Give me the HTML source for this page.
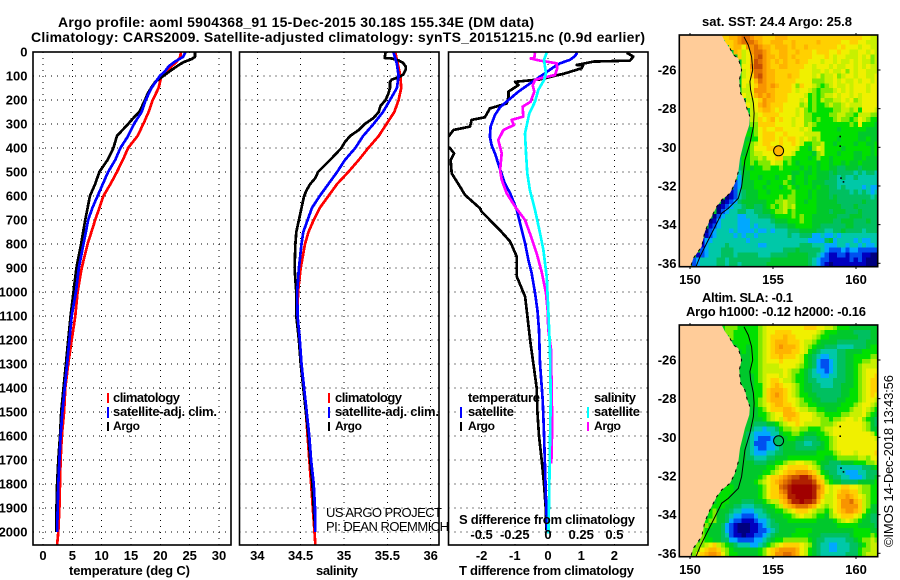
<!DOCTYPE html>
<html><head><meta charset="utf-8"><title>Argo profile</title>
<style>
html,body{margin:0;padding:0;background:#fff;}
svg{display:block;}
text{font-family:"Liberation Sans",sans-serif;fill:#000;}
.b{font-weight:bold;font-size:13px;}
.s{font-weight:bold;font-size:12px;}
.t{font-weight:bold;font-size:14px;}
.n{font-weight:normal;font-size:13px;}
</style></head><body>
<svg id="chart" xmlns="http://www.w3.org/2000/svg" width="900" height="580" viewBox="0 0 900 580">
<defs>
<clipPath id="clip-temp"><rect x="33" y="52" width="198" height="493"/></clipPath>
<clipPath id="clip-sal"><rect x="239.5" y="52" width="199.5" height="493"/></clipPath>
<clipPath id="clip-diff"><rect x="448.5" y="52" width="199.5" height="493"/></clipPath>
<clipPath id="clip-map1"><rect x="679.3" y="35" width="198.4" height="231.7"/></clipPath>
<clipPath id="clip-map2"><rect x="679.3" y="325" width="198.4" height="231.7"/></clipPath>
</defs>
<g id="layer-maps"></g>
<g id="layer-grid"></g>
<g id="layer-lines"></g>
<g id="layer-ticks"></g>

<text class="t" x="58" y="27" textLength="476" lengthAdjust="spacing">Argo profile: aoml 5904368_91 15-Dec-2015 30.18S 155.34E (DM data)</text>
<text class="t" x="31" y="42" textLength="614" lengthAdjust="spacing">Climatology: CARS2009. Satellite-adjusted climatology: synTS_20151215.nc (0.9d earlier)</text>

<text class="b" x="69" y="575" textLength="121" lengthAdjust="spacing">temperature (deg C)</text>
<text class="b" x="316" y="575" textLength="42" lengthAdjust="spacing">salinity</text>
<text class="b" x="459" y="575" textLength="175" lengthAdjust="spacing">T difference from climatology</text>
<text class="b" x="459" y="524" textLength="176" lengthAdjust="spacing">S difference from climatology</text>

<g>
<rect x="107" y="393" width="2" height="10" fill="#f00"/>
<rect x="107" y="407" width="2" height="11" fill="#00f"/>
<rect x="107" y="422" width="2" height="9" fill="#000"/>
<text class="b" x="113" y="402" textLength="67" lengthAdjust="spacing">climatology</text>
<text class="b" x="113" y="416" textLength="104" lengthAdjust="spacing">satellite-adj. clim.</text>
<text class="s" x="113" y="430" textLength="27" lengthAdjust="spacing">Argo</text>
</g>
<g>
<rect x="328" y="393" width="2" height="10" fill="#f00"/>
<rect x="328" y="407" width="2" height="11" fill="#00f"/>
<rect x="328" y="422" width="2" height="9" fill="#000"/>
<text class="b" x="335" y="402" textLength="67" lengthAdjust="spacing">climatology</text>
<text class="b" x="335" y="416" textLength="104" lengthAdjust="spacing">satellite-adj. clim.</text>
<text class="s" x="335" y="430" textLength="27" lengthAdjust="spacing">Argo</text>
</g>
<g>
<text class="b" x="468" y="402" textLength="72" lengthAdjust="spacing">temperature</text>
<rect x="460" y="407" width="2" height="11" fill="#00f"/>
<rect x="460" y="422" width="2" height="9" fill="#000"/>
<text class="b" x="468" y="416" textLength="46" lengthAdjust="spacing">satellite</text>
<text class="s" x="468" y="430" textLength="27" lengthAdjust="spacing">Argo</text>
<text class="b" x="594" y="402" textLength="42" lengthAdjust="spacing">salinity</text>
<rect x="587" y="407" width="2" height="11" fill="#0ff"/>
<rect x="587" y="422" width="2" height="9" fill="#f0f"/>
<text class="b" x="594" y="416" textLength="46" lengthAdjust="spacing">satellite</text>
<text class="s" x="594" y="430" textLength="27" lengthAdjust="spacing">Argo</text>
</g>
<text class="n" x="326" y="517" textLength="116" lengthAdjust="spacing">US ARGO PROJECT</text>
<text class="n" x="326" y="531" textLength="123" lengthAdjust="spacing">PI: DEAN ROEMMICH</text>

<text class="b" x="702" y="26" textLength="150" lengthAdjust="spacing">sat. SST: 24.4 Argo: 25.8</text>
<text class="b" x="702" y="302" textLength="91" lengthAdjust="spacing">Altim. SLA: -0.1</text>
<text class="b" x="686" y="316" textLength="180" lengthAdjust="spacing">Argo h1000: -0.12 h2000: -0.16</text>
<text class="n" transform="translate(893,547) rotate(-90)" textLength="172" lengthAdjust="spacing">©IMOS 14-Dec-2018 13:43:56</text>
</svg>

<script>
/* ---------- profile data: depth (dbar) and value pairs ---------- */
const depthTicks = [0,100,200,300,400,500,600,700,800,900,1000,1100,1200,1300,1400,1500,1600,1700,1800,1900,2000];
const tempTicks = [0,5,10,15,20,25,30];
const salTicks = [34,34.5,35,35.5,36];
const salTickLabels = ['34','34.5','35','35.5','36'];
const diffTTicks = [-2,-1,0,1,2];
const diffTTickLabels = ['-2','-1','0','1','2'];
const diffSTicks = [-0.5,-0.25,0,0.25,0.5];
const diffSTickLabels = ['-0.5','-0.25','0','0.25','0.5'];

const tempArgoDepth = [0,10,20,30,40,50,60,75,100,125,150,175,200,250,275,300,350,400,450,500,550,600,650,700,800,900,1000,1100,1200,1300,1400,1500,1600,1700,1800,1900,1950,2000];
const tempArgoValue = [25.9,25.9,25.9,25.3,24.2,23.4,22.8,21.9,20.5,19.1,18.4,17.8,17.4,16.4,15.4,14.5,12.6,12,11,9.6,8.9,8,7.6,7.2,6.5,5.7,5.2,4.7,4.3,3.9,3.5,3.1,2.9,2.6,2.4,2.3,2.3,2.3];
const tempClimDepth = [0,20,40,60,100,150,200,250,300,350,400,450,500,550,600,650,700,800,900,1000,1100,1200,1300,1400,1500,1600,1700,1800,1900,2000,2054];
const tempClimValue = [23.5,23.4,22.8,21.9,20.2,19.7,18.7,18,17.1,16.1,14.5,13.6,12.6,11.5,10.3,9.6,8.9,7.6,6.6,5.9,5.5,4.9,4.3,3.8,3.6,3.2,3,2.9,2.8,2.6,2.4];
const tempSatDepth = [0,20,40,60,80,100,150,200,250,300,350,400,450,500,550,600,650,700,800,900,1000,1100,1200,1300,1400,1500,1600,1700,1800,1900,2000];
const tempSatValue = [24.3,23.9,22.5,21.4,20.8,19.9,18.5,17.5,16.8,15.5,14.5,13.2,12.3,11.1,10.2,9.3,8.4,7.7,6.9,6.1,5.6,4.9,4.5,4.1,3.7,3.3,3,2.8,2.6,2.5,2.4];

const salArgoDepth = [0,25,27,35,45,60,75,95,105,115,125,150,175,200,225,250,275,300,325,350,375,400,450,500,525,550,575,600,650,700,750,800,900,950,1000,1100,1150,1200,1300,1400,1500,1600,1700,1800,1900,2000];
const salArgoValue = [35.48,35.47,35.55,35.63,35.68,35.71,35.71,35.68,35.63,35.55,35.53,35.53,35.51,35.48,35.42,35.40,35.34,35.24,35.17,35.07,35.01,34.97,34.84,34.70,34.67,34.61,34.57,34.54,34.51,34.48,34.45,34.44,34.43,34.44,34.45,34.45,34.465,34.48,34.50,34.53,34.56,34.59,34.61,34.635,34.65,34.67];
const salClimDepth = [0,50,100,150,200,250,300,350,400,450,500,550,600,650,700,750,800,900,1000,1100,1200,1300,1400,1500,1600,1700,1800,1900,2000,2054];
const salClimValue = [35.59,35.62,35.65,35.66,35.63,35.58,35.49,35.40,35.28,35.17,35.05,34.92,34.82,34.72,34.65,34.59,34.55,34.50,34.47,34.465,34.48,34.50,34.53,34.56,34.58,34.60,34.62,34.64,34.66,34.67];
const salSatDepth = [0,50,100,150,200,250,300,350,400,450,500,550,600,650,700,750,800,900,1000,1100,1200,1300,1400,1500,1600,1700,1800,1900,2000];
const salSatValue = [35.57,35.61,35.63,35.61,35.53,35.45,35.34,35.22,35.13,35.01,34.92,34.82,34.72,34.63,34.58,34.53,34.51,34.48,34.46,34.465,34.49,34.51,34.54,34.57,34.60,34.62,34.65,34.665,34.67];

const diffTArgoDepth = [3,19,36,40,54,55,68,89,114,124,138,165,186,214,235,272,283,311,325,353,375,401,422,450,506,561,596,651,665,742,790,853,936,1019,1100,1200,1300,1400,1500,1600,1700,1800,1900,2000];
const diffTArgoValue = [2.37,2.57,2.47,1.37,0.86,1.06,1.01,0.51,-0.24,-0.99,-0.89,-1.19,-1.19,-1.24,-1.75,-1.9,-2.3,-2.35,-2.85,-3.0,-3.2,-2.95,-2.83,-2.93,-2.9,-2.65,-2.5,-2.05,-2,-1.45,-1.14,-0.94,-0.94,-0.69,-0.62,-0.54,-0.44,-0.34,-0.32,-0.27,-0.19,-0.12,-0.07,-0.04];
const diffTSatDepth = [3,17,33,47,64,103,131,165,200,231,263,311,353,388,422,464,506,547,589,658,714,797,867,922,1006,1075,1158,1297,1450,1589,1728,1867,2000];
const diffTSatValue = [0.88,0.81,0.66,0.36,0.16,-0.24,-0.54,-0.89,-1.19,-1.45,-1.6,-1.73,-1.75,-1.7,-1.6,-1.5,-1.4,-1.3,-1.14,-0.94,-0.84,-0.69,-0.59,-0.49,-0.39,-0.32,-0.27,-0.24,-0.16,-0.12,-0.09,-0.06,-0.02];
const diffSArgoDepth = [3,26,27,36,47,68,96,110,117,138,165,207,228,269,283,304,325,367,422,492,533,589,644,700,756,839,915,1006,1075,1158,1242,1450,1533,1714];
const diffSArgoValue = [-0.098,-0.103,-0.131,-0.06,0.065,0.07,0.053,-0.06,-0.098,-0.115,-0.103,-0.131,-0.191,-0.186,-0.274,-0.256,-0.336,-0.374,-0.349,-0.361,-0.349,-0.311,-0.248,-0.173,-0.136,-0.085,-0.048,-0.015,-0.003,0.0025,0.023,0.028,0.033,0.025];
const diffSSatDepth = [3,33,89,117,158,207,256,339,422,506,575,658,742,825,936,1075,1242,1450,1617,1867,2006];
const diffSSatValue = [-0.01,-0.03,-0.015,-0.03,-0.073,-0.098,-0.141,-0.173,-0.166,-0.156,-0.136,-0.098,-0.065,-0.035,-0.01,0.0025,0.015,0.02,0.015,0.008,0.003];

/* ---------- map data: colour level per 0.25 degree cell, '.' = land ---------- */
const sstRows = [
"..........bb ccdeedccbbbc ccbbbbbbbbbb bbbbbbbbaa99",
"...........b bcdeeedcbbcc cbbcbbbbbcbb bbbaabbaa999",
"............ bccaddedccbc ccbcbbcbbbbb bbabaaa9aa99",
"............ .cb9adeedcbb ccbbcbbbabbb aabaa99aa9a9",
"............ ..b9acefdccb ccbcbbbbaaab a9aa999a9a89",
"............ ...9acfedcbc bcbbcbbaaa9a a9a99a9a9989",
"............ ...aadffdcbb ccbbbbaa9aaa 9a99aa9a9a99",
"............ ...9aceedccb bbbbbaaa99a9 a99a8a9aa999",
"............ ...9abefdccb bbcbbaaa9a89 9a89aa9aa99a",
"............ ...aaacedccb bbbbaaaa8889 9a9a99a9aa9a",
"............ ...a9abddcdc bbba8baa9878 9a99a9aaa9aa",
"............ ...99adddccb bbba9aa98788 89a9a9aaa9aa",
"............ ...a9acdcdcb bbaaaa978789 9a9aa9a9aaaa",
"............ ....99abdccb bbaaa9a78798 899a9a89aaaa",
"............ ....a9acdcbb baaaa8978778 9889a999aaaa",
"............ .....9abccba baaa9a878777 78899897aaa9",
"............ .....99abbbb aaaa9a887777 889988799988",
"............ .....99babca baa9aa887877 7898878a9877",
"............ .....88bbbba aaa9aa898777 7777787a7776",
"............ .....78abaab baaaa9a97777 776777777666",
"............ ....778abbba abaaaa999977 777777766666",
"............ ....677abbba babba9a98977 776777766766",
"............ ...6789abbaa baaba9778897 767777677667",
"............ ...678aaabba aaaa97768a97 777677777767",
"............ ...67899aaaa baa977776897 776777667767",
"............ ..5778898aab b88777767877 677777667666",
"............ ..57787888a9 978767777677 677676676666",
"............ ..5676778877 877776767677 665566656666",
"............ ..4667777777 777667667666 565555454554",
"............ ..3667767776 778677677666 554544544444",
"............ .23666777677 787677676665 554444444444",
"............ .23666776777 678767776766 554544443433",
"............ 124566677677 777877767666 555554545434",
"...........0 124566677777 878877767666 565555555545",
"..........01 235666666778 898877677666 665555556555",
".........012 344566556787 898977777666 666555655555",
".........023 445544556678 897877777666 566655565555",
"........0234 443344455567 777878776666 665556665555",
".......01344 443334444456 667778776666 655666555655",
".......12344 443334344445 556677776655 555566555555",
"......023444 343333433434 445556666554 455655554555",
"......123444 434344344444 445445553343 343444444444",
".....1334444 444434444444 444444433335 634444343344",
".....1344445 444444433444 444445554443 334434434334",
".....2344455 544444444444 455565555543 222323322222",
"....12344455 545555544455 556666655432 112212221100",
"...234444554 555555555566 666666654322 111112121000",
"...234444554 554555555666 666666654321 011111111000"
];
const slaRows = [
"..........78 887777789aaa aaaaaabbbaa9 987776666666",
"...........8 877777789aab bbbaaaaaa987 776666555566",
"............ 877777789abb bcbbaaaa9877 666666655566",
"............ .77777789abc ccbbba998766 665555555666",
"............ ..7767789abc dcccba987665 554444555677",
"............ ...767789abc cccbba976544 445566667777",
"............ ...667789abb cbbba9765433 445566777788",
"............ ...667789aaa baaaa9765322 345566778899",
"............ ...667789999 aaaa98765322 345566789999",
"............ ...667789999 9a9887654332 345566789aaa",
"............ ....66789aaa 9a9877654433 445566789aab",
"............ ....66789abb a99877655444 455566789abb",
"............ ....66779abc baa987665544 455666789abb",
"............ ....66779bcc cba987665555 555667789abb",
"............ .....6779bcd cba987766555 555667789aba",
"............ .....6789bcc cbaa98776655 556677789aa9",
"............ .....6789abc cbba98877666 66677789aa98",
"............ .....6678abb bccba9988776 66777899a987",
"............ .....667789a acccbaaa9887 77788999a876",
"............ .....666789a 9bcbbaaa9988 7889aa9a8765",
"............ ....66555667 89aaba999988 89aaaaaa9865",
"............ ....65443445 788998877789 9aaaaaaa9866",
"............ ...654333344 677887666778 9aaaaaaaaa97",
"............ ...654322234 567766555677 89aaaaaaaaa9",
"............ ...654222334 566655445567 89aaaaaaaaaa",
"............ ..6654322334 566655555667 89aaaaaaaaaa",
"............ ..6654333445 566666666777 789aaa9aaaab",
"............ ..6655444556 667777777776 6788888998aa",
"............ ..6666555667 7899aa998766 555666777889",
"............ ..6666666778 9abbbbba9865 554444445567",
"............ .66666667789 abccdddcb976 554433344555",
"............ .66666678abb cdeffggfdb97 655443334556",
"............ 666666789abc defgggggfcb8 766555566667",
"...........7 766666678abb efghhhhhgeca 9aabbaa98877",
"..........77 766666678abb deghhhhhgdca 9abccbb98877",
".........777 666666678abb cdgghhhhgdb9 9accdcba9877",
".........777 666555667899 bcegghggfca9 9abddecb9877",
"........7776 655444556678 9bcdeeedca98 9abddddb9866",
".......78666 544333445667 789abbba9887 8abcddcb9766",
".......78665 433222344566 67789a998776 89abbba97655",
"......788665 322111233456 667777777666 6789a9876655",
"......876653 210001123455 666666666666 667777766665",
".....8766653 210001122345 666677776666 666666777766",
".....8766654 211011223456 666777766655 555556777787",
".....8776655 332222334567 788888876554 444455678898",
"....889ab987 654443345789 abbbba986544 334445567899",
"...88abccb98 766666678abc ddddca976544 334445578899",
"...8abcddca8 776666678abd deedca976544 444455578999"
];
const levelChars = '0123456789abcdefgh';
const levelColors = ['#00007f','#0000c0','#0050f0','#00a8ff','#00c8a8','#00c060','#00c82c','#00e000','#80ea00','#c8f000','#f0f000','#ffd000','#ffb400','#f89400','#e07000','#c85000','#b02000','#a00000'];

const coastLon = [151.91,152.11,152.41,152.61,152.91,153.11,152.97,153.05,153.31,153.45,153.61,153.57,153.31,153.21,153.01,152.91,152.71,152.41,151.91,151.61,151.20,150.90,150.70,150.20,150.04];
const coastLat = [-24.19,-24.53,-24.88,-25.22,-25.40,-26,-26.52,-27.21,-27.55,-28.07,-28.41,-28.84,-29.53,-29.88,-30.57,-31.26,-31.86,-32.38,-32.72,-33.07,-33.76,-34.36,-35.14,-35.74,-36.17];
const isobathLon = [153.25,153.51,153.71,153.78,153.61,153.65,153.82,153.86,153.82,153.61,153.31,153.21,153.11,152.91,152.31,151.91,151.51,151,150.6,150.36];
const isobathLat = [-24.28,-24.71,-25.31,-26,-26.6,-27.03,-27.72,-28.24,-28.93,-29.79,-30.66,-31.34,-32.03,-32.64,-33.16,-33.41,-34.1,-34.97,-35.66,-36.17];
const islandLon = [159,159,159.05,159.2];
const islandLat = [-29.4,-29.9,-31.55,-31.75];
const mapLonTicks = [150,155,160];
const mapLatTicks = [-26,-28,-30,-32,-34,-36];
const argoLon = 155.34;
const argoLat = -30.18;

/* ---------- axis functions ---------- */
function depthY(d){ return 52 + 0.24*d; }
function tempX(t){ return 43 + 5.867*t; }
function salX(s){ return 257.3 + 86.7*(s-34); }
function diffTX(t){ return 548 + 33.2*t; }
function diffSX(s){ return 548 + 132.8*s; }
function lonX(lon){ return 690 + 16.6*(lon-150); }
function latY(lat, offset){ return 70 + offset + 19.33*(-26-lat); }

const NS = 'http://www.w3.org/2000/svg';
function mk(tag, parent){ const el = document.createElementNS(NS, tag); parent.appendChild(el); return el; }
const gridLayer = document.getElementById('layer-grid');
const lineLayer = document.getElementById('layer-lines');
const tickLayer = document.getElementById('layer-ticks');
const mapLayer = document.getElementById('layer-maps');

function addText(str, x, y, anchor, name){
  const el = mk('text', tickLayer);
  el.setAttribute('class', 'b');
  el.setAttribute('x', x);
  el.setAttribute('y', y);
  el.setAttribute('text-anchor', anchor);
  
  
  el.textContent = str;
}
function gridLine(x1, y1, x2, y2, name){
  const el = mk('line', gridLayer);
  el.setAttribute('x1', x1);
  el.setAttribute('y1', y1);
  el.setAttribute('x2', x2);
  el.setAttribute('y2', y2);
  el.setAttribute('stroke', '#000');
  el.setAttribute('stroke-width', '1');
  el.setAttribute('stroke-dasharray', '1 5');
  el.setAttribute('shape-rendering', 'crispEdges');
  
  
}
function frame(x, y, w, h, name, parent){
  const el = mk('rect', parent);
  el.setAttribute('x', x);
  el.setAttribute('y', y);
  el.setAttribute('width', w);
  el.setAttribute('height', h);
  el.setAttribute('fill', 'none');
  el.setAttribute('stroke', '#000');
  el.setAttribute('stroke-width', '1.6');
  
  
}
function profile(depths, values, xFn, color, clip, name){
  const el = mk('polyline', lineLayer);
  el.setAttribute('points', depths.map(function(d, i){ return xFn(values[i]).toFixed(1) + ',' + depthY(d).toFixed(1); }).join(' '));
  el.setAttribute('fill', 'none');
  el.setAttribute('stroke', color);
  el.setAttribute('stroke-width', '2.7');
  el.setAttribute('stroke-linejoin', 'round');
  el.setAttribute('shape-rendering', 'crispEdges');
  el.setAttribute('clip-path', 'url(#' + clip + ')');
  
  
}

const panels = [[33,198],[239.5,199.5],[448.5,199.5]];
panels.forEach(function(p){
  depthTicks.forEach(function(d){ gridLine(p[0], depthY(d), p[0]+p[1], depthY(d), 'depth-gridline'); });
});
tempTicks.forEach(function(t){ gridLine(tempX(t), 52, tempX(t), 545, 'temperature-gridline'); });
salTicks.forEach(function(s){ gridLine(salX(s), 52, salX(s), 545, 'salinity-gridline'); });
diffTTicks.forEach(function(t){ gridLine(diffTX(t), 52, diffTX(t), 545, 't-difference-gridline'); });

profile(tempClimDepth, tempClimValue, tempX, '#f00', 'clip-temp', 'temperature-climatology-line');
profile(tempArgoDepth, tempArgoValue, tempX, '#000', 'clip-temp', 'temperature-argo-line');
profile(tempSatDepth, tempSatValue, tempX, '#00f', 'clip-temp', 'temperature-satellite-line');
profile(salClimDepth, salClimValue, salX, '#f00', 'clip-sal', 'salinity-climatology-line');
profile(salArgoDepth, salArgoValue, salX, '#000', 'clip-sal', 'salinity-argo-line');
profile(salSatDepth, salSatValue, salX, '#00f', 'clip-sal', 'salinity-satellite-line');
profile(diffTArgoDepth, diffTArgoValue, diffTX, '#000', 'clip-diff', 't-difference-argo-line');
profile(diffTSatDepth, diffTSatValue, diffTX, '#00f', 'clip-diff', 't-difference-satellite-line');
profile(diffSArgoDepth, diffSArgoValue, diffSX, '#f0f', 'clip-diff', 's-difference-argo-line');
profile(diffSSatDepth, diffSSatValue, diffSX, '#0ff', 'clip-diff', 's-difference-satellite-line');

panels.forEach(function(p, i){
  frame(p[0], 52, p[1], 493, 'panel-frame-' + (i+1), lineLayer);
});

depthTicks.forEach(function(d){ addText(String(d), 27.5, depthY(d)+4.5, 'end', 'depth-tick-label'); });
tempTicks.forEach(function(t){ addText(String(t), tempX(t), 560, 'middle', 'temperature-tick-label'); });
salTicks.forEach(function(s, i){ addText(salTickLabels[i], salX(s), 560, 'middle', 'salinity-tick-label'); });
diffTTicks.forEach(function(t, i){ addText(diffTTickLabels[i], diffTX(t), 560, 'middle', 't-difference-tick-label'); });
diffSTicks.forEach(function(s, i){ addText(diffSTickLabels[i], diffSX(s), 539, 'middle', 's-difference-tick-label'); });

/* ---------- maps ---------- */
function drawMap(rows, offset, clip, mapName, circleColor){
  const g = mk('g', mapLayer);
  g.setAttribute('clip-path', 'url(#' + clip + ')');
  
  
  const cellLon = 0.25;
  const cellLat = 0.25;
  const startLon = 149.36;
  const startLat = -24.19;
  const bg = mk('rect', g);
  bg.setAttribute('x', 679);
  bg.setAttribute('y', 35 + offset);
  bg.setAttribute('width', 199);
  bg.setAttribute('height', 232);
  bg.setAttribute('fill', '#00c82c');
  
  
  rows.forEach(function(row, j){
    const cells = row.replace(/ /g, '');
    for (let i = 0; i < cells.length; i++){
      const level = levelChars.indexOf(cells[i]);
      if (level < 0) continue;
      const r = mk('rect', g);
      r.setAttribute('x', lonX(startLon + i*cellLon).toFixed(2));
      r.setAttribute('y', latY(startLat - j*cellLat, offset).toFixed(2));
      r.setAttribute('width', (16.6*cellLon + 0.3).toFixed(2));
      r.setAttribute('height', (19.33*cellLat + 0.3).toFixed(2));
      r.setAttribute('fill', levelColors[level]);
      r.setAttribute('shape-rendering', 'crispEdges');
      
      
    }
  });
  const land = mk('polygon', g);
  const landPts = coastLon.map(function(lon, i){ return lonX(lon).toFixed(1) + ',' + latY(coastLat[i], offset).toFixed(1); });
  landPts.push('670,' + latY(-36.17, offset).toFixed(1));
  landPts.push('670,' + latY(-24.19, offset).toFixed(1));
  land.setAttribute('points', landPts.join(' '));
  land.setAttribute('fill', '#ffcc99');
  
  

  const coastUpper = mk('polyline', g);
  coastUpper.setAttribute('points', coastLon.slice(2, 11).map(function(lon, i){ return lonX(lon).toFixed(1) + ',' + latY(coastLat[i+2], offset).toFixed(1); }).join(' '));
  coastUpper.setAttribute('fill', 'none');
  coastUpper.setAttribute('stroke', '#000');
  coastUpper.setAttribute('stroke-width', '1');
  coastUpper.setAttribute('stroke-dasharray', '3 5');
  
  
  const coastLower = mk('polyline', g);
  coastLower.setAttribute('points', coastLon.slice(15).map(function(lon, i){ return lonX(lon).toFixed(1) + ',' + latY(coastLat[i+15], offset).toFixed(1); }).join(' '));
  coastLower.setAttribute('fill', 'none');
  coastLower.setAttribute('stroke', '#000');
  coastLower.setAttribute('stroke-width', '1');
  coastLower.setAttribute('stroke-dasharray', '3 5');
  
  

  const iso = mk('polyline', g);
  iso.setAttribute('points', isobathLon.map(function(lon, i){ return lonX(lon).toFixed(1) + ',' + latY(isobathLat[i], offset).toFixed(1); }).join(' '));
  iso.setAttribute('fill', 'none');
  iso.setAttribute('stroke', '#000');
  iso.setAttribute('stroke-width', '1');
  
  

  islandLon.forEach(function(lon, i){
    const s = mk('rect', g);
    s.setAttribute('x', lonX(lon).toFixed(1));
    s.setAttribute('y', latY(islandLat[i], offset).toFixed(1));
    s.setAttribute('width', 1.6);
    s.setAttribute('height', 1.6);
    s.setAttribute('fill', '#000');
    
    
  });

  const c = mk('circle', g);
  c.setAttribute('cx', lonX(argoLon).toFixed(1));
  c.setAttribute('cy', latY(argoLat, offset).toFixed(1));
  c.setAttribute('r', '5');
  c.setAttribute('fill', circleColor);
  c.setAttribute('stroke', '#000');
  c.setAttribute('stroke-width', '1');
  
  

  frame(679.3, 35 + offset, 198.4, 231.7, mapName + '-frame', mapLayer);

  mapLonTicks.forEach(function(lon){
    [[33,35],[267,269]].forEach(function(t){
      const m = mk('line', mapLayer);
      m.setAttribute('x1', lonX(lon));
      m.setAttribute('x2', lonX(lon));
      m.setAttribute('y1', t[0] + offset);
      m.setAttribute('y2', t[1] + offset);
      m.setAttribute('stroke', '#000');
      
      
    });
    addText(String(lon), lonX(lon), 284 + offset, 'middle', 'longitude-tick-label');
  });
  mapLatTicks.forEach(function(lat){
    const m = mk('line', mapLayer);
    m.setAttribute('x1', 878);
    m.setAttribute('x2', 880.5);
    m.setAttribute('y1', latY(lat, offset));
    m.setAttribute('y2', latY(lat, offset));
    m.setAttribute('stroke', '#000');
    
    
    addText(String(lat), 676.5, latY(lat, offset) + 4.5, 'end', 'latitude-tick-label');
  });
}
drawMap(sstRows, 0, 'clip-map1', 'sst-map', '#ffb400');
drawMap(slaRows, 290, 'clip-map2', 'sla-map', '#00c060');
</script>
</body></html>
